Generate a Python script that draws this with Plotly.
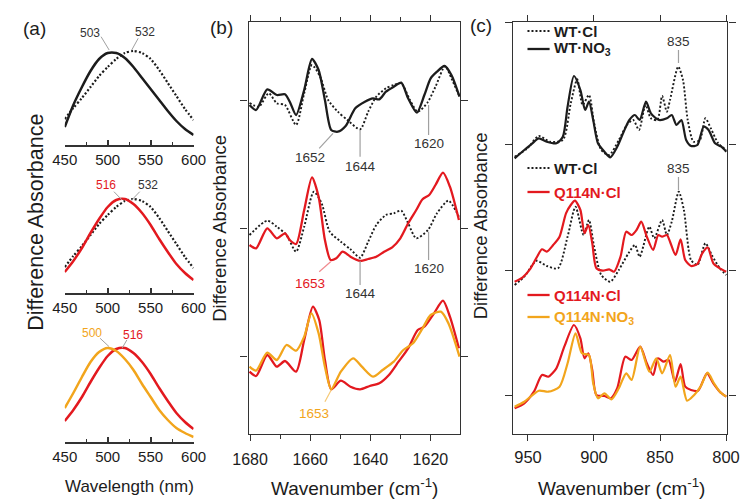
import plotly.graph_objects as go

W, H = 752, 500
FONT = "Liberation Sans, Arial, sans-serif"
BLACK = "#1c1c1c"
RED = "#e3191f"
ORANGE = "#f2a51c"
LEAD = "#a0a0a0"
DOTS = "2px,2px"

# ---------------- (a) visible difference spectra (normalised) ----------------
wavelength = [450, 460, 470, 480, 490, 500, 510, 520, 530, 540, 550, 560, 570, 580, 590, 600]
wt_no3_vis = [0.18, 0.40, 0.58, 0.74, 0.86, 0.92, 0.92, 0.87, 0.78, 0.67, 0.56, 0.45, 0.34, 0.24, 0.16, 0.10]
wt_cl_vis = [0.26, 0.37, 0.47, 0.58, 0.69, 0.78, 0.86, 0.92, 0.94, 0.92, 0.86, 0.75, 0.62, 0.49, 0.36, 0.25]
q114n_cl_vis = [0.21, 0.32, 0.45, 0.60, 0.74, 0.86, 0.93, 0.94, 0.89, 0.80, 0.68, 0.54, 0.41, 0.29, 0.20, 0.13]
q114n_no3_vis = [0.34, 0.49, 0.65, 0.80, 0.90, 0.94, 0.91, 0.83, 0.72, 0.58, 0.45, 0.32, 0.22, 0.14, 0.09, 0.05]

# ---------------- (b) amide I region ----------------
b_offsets = [0, -12.8, -25.6]

b1_wn = [1680.2, 1678.0, 1674.3, 1671.1, 1668.4, 1666.8, 1664.7, 1662.0, 1659.4, 1657.2, 1655.1, 1653.0,
         1650.8, 1648.2, 1645.0, 1641.8, 1639.1, 1637.0, 1634.8, 1632.2, 1629.7, 1627.4, 1624.5, 1622.0,
         1619.9, 1617.8, 1615.3, 1613.0, 1610.3]
b1_wt_no3 = [-0.5, -1.0, 1.07, 0.5, 0.57, -0.17, -1.5, 1.0, 4.1, 3.0, 0.0, -3.0,
             -3.17, -2.6, -0.83, -0.17, 0.17, 0.07, 0.83, 1.33, 1.73, 0.17, -1.27, 0.5,
             2.17, 2.83, 3.4, 2.5, 0.33]
b1d_wn = [1680.2, 1677.1, 1673.8, 1671.1, 1668.4, 1664.7, 1662.0, 1659.4, 1656.7, 1654.0, 1650.8, 1647.6,
          1643.4, 1640.7, 1638.0, 1634.8, 1632.2, 1629.7, 1626.8, 1624.2, 1621.0, 1618.3, 1615.1, 1613.0, 1610.3]
b1_wt_cl = [-0.3, -0.67, 0.67, -0.33, -0.5, -2.5, 0.67, 3.5, 2.33, 0.0, -1.17, -2.0,
            -2.93, -1.17, 0.33, 1.17, 1.5, 1.67, 0.0, -1.17, -0.27, 1.33, 3.4, 2.17, 0.33]

b2_wn = [1680.2, 1678.0, 1674.3, 1671.1, 1668.4, 1666.8, 1664.7, 1662.0, 1659.4, 1657.2, 1655.1, 1653.2,
         1651.3, 1649.2, 1646.6, 1643.4, 1640.7, 1638.0, 1635.4, 1632.7, 1630.0, 1627.4, 1624.7, 1622.6,
         1620.4, 1618.3, 1615.8, 1613.5, 1610.5]
b2_q114n_cl = [-1.7, -2.03, -0.03, -1.03, -0.53, -1.2, -1.6, 1.8, 5.07, 3.13, -1.2, -3.2,
               -3.03, -2.37, -2.87, -3.3, -3.1, -2.87, -2.37, -1.93, -1.03, 0.47, 1.8, 2.87,
               3.3, 4.3, 5.53, 4.13, 0.8]
b2d_wn = [1680.2, 1674.3, 1671.1, 1667.9, 1664.7, 1662.0, 1658.8, 1656.2, 1653.5, 1649.8, 1646.6, 1643.4,
          1640.7, 1638.0, 1634.8, 1632.2, 1629.7, 1627.4, 1624.7, 1620.8, 1617.8, 1614.0, 1610.5]
b2_wt_cl = [-0.7, 0.73, 0.13, -0.7, -2.37, 0.13, 3.63, 2.47, -0.37, -1.37, -2.13, -2.97,
            -1.37, 0.3, 1.3, 1.47, 1.73, 0.47, -1.03, -0.2, 1.47, 2.73, 1.13]

b3_wn = [1680.2, 1678.0, 1674.3, 1671.1, 1668.4, 1664.7, 1662.0, 1659.1, 1657.0, 1655.1, 1653.0, 1649.8,
         1646.6, 1643.4, 1640.2, 1637.0, 1633.8, 1630.6, 1627.4, 1624.2, 1622.0, 1618.8, 1615.8, 1613.5, 1610.5]
b3_q114n_cl = [-1.57, -2.0, 0.1, -1.07, -0.5, -1.57, 1.6, 4.93, 3.6, -0.4, -3.33, -2.47,
               -3.07, -3.33, -3.0, -2.73, -1.9, -0.57, 0.77, 2.6, 2.93, 4.27, 5.53, 3.93, 0.77]
b3o_wn = [1680.2, 1678.0, 1674.3, 1671.1, 1667.9, 1664.7, 1662.0, 1659.6, 1657.2, 1655.1, 1653.0, 1649.8,
          1645.7, 1642.8, 1639.1, 1635.9, 1632.2, 1629.0, 1625.8, 1622.6, 1619.9, 1616.5, 1614.0, 1610.3]
b3_q114n_no3 = [-1.07, -1.47, 0.33, -0.4, 1.1, 0.53, 1.93, 4.27, 2.27, -1.07, -3.33, -1.57,
                -0.23, -1.07, -2.07, -1.4, -0.57, 0.6, 1.27, 2.77, 4.1, 4.43, 3.27, -0.07]

# ---------------- (c) 960-800 cm-1 region ----------------
c_offsets = [0, -12.6, -25.1]

c1_wn = [960.1, 952.8, 946.7, 941.8, 935.8, 928.5, 923.6, 920.0, 915.2, 910.3, 906.7, 903.8,
         900.6, 897.0, 892.1, 887.7, 882.4, 877.5, 873.2, 869.0, 865.4, 860.6, 856.9, 850.8,
         844.8, 841.1, 837.5, 833.8, 830.2, 826.5, 821.7, 816.9, 813.2, 808.3, 803.5, 799.8]
c1_wt_no3 = [-1.43, -0.6, 0.07, 0.57, 0.23, 0.07, 0.73, 3.73, 6.8, 5.4, 3.4, 4.23,
             2.4, 0.07, -0.77, -1.33, -0.27, 1.23, 2.4, 2.9, 2.4, 4.23, 3.07, 2.4,
             2.57, 2.9, 1.9, 2.4, 0.4, -0.2, -0.1, 1.73, 1.4, 0.07, -0.27, -0.77]
c1d_wn = [960.1, 950.4, 941.8, 933.4, 923.6, 917.6, 912.7, 908.6, 903.8, 899.9, 894.5, 888.5,
          881.2, 875.1, 870.3, 865.9, 861.0, 856.9, 852.0, 848.4, 844.8, 842.4, 836.2, 832.6,
          829.0, 824.6, 819.8, 815.6, 811.5, 805.9, 799.8]
c1_wt_cl = [-1.27, -0.43, 0.8, 0.23, 0.4, 4.07, 6.47, 3.9, 4.9, 2.07, -0.6, -1.1,
            0.4, 1.9, 2.4, 1.4, 3.9, 2.57, 2.4, 4.8, 3.23, 4.4, 7.73, 6.4,
            2.4, 0.23, 0.4, 2.57, 1.57, 0.07, -0.6]

c2_wn = [960.1, 954.0, 948.0, 943.1, 939.4, 935.8, 930.9, 926.1, 921.2, 917.6, 914.4, 910.3,
         907.2, 904.3, 901.3, 898.2, 893.3, 888.5, 884.8, 879.9, 875.6, 871.5, 867.8, 864.2,
         860.0, 855.2, 851.3, 848.4, 844.8, 842.4, 838.2, 834.4, 830.9, 826.5, 821.7, 818.0,
         813.9, 809.6, 804.7, 799.8]
c2_q114n_cl = [-1.17, -0.73, 0.17, 1.33, 2.07, 1.83, 2.5, 3.33, 5.67, 6.5, 6.93, 6.0,
               3.67, 4.5, 2.67, 0.17, -0.07, 0.07, -0.17, 1.33, 3.83, 3.5, 4.0, 4.83,
               3.33, 2.0, 3.5, 3.33, 3.5, 2.83, 1.5, 3.07, 1.0, 0.4, 0.6, 1.67,
               2.27, 0.67, 0.17, -0.17]
c2d_wn = [960.1, 952.8, 946.7, 943.3, 935.8, 927.3, 920.0, 914.0, 907.9, 903.8, 899.9, 894.5,
          887.7, 881.2, 873.9, 869.0, 865.4, 858.1, 854.4, 848.4, 844.8, 841.1, 835.8, 831.9,
          826.5, 821.7, 815.6, 810.8, 804.7, 799.8]
c2_wt_cl = [-1.5, -0.67, 0.5, 0.93, 0.4, 0.17, 3.33, 6.33, 3.5, 5.0, 2.33, -0.5,
            -1.17, 0.0, 1.67, 2.5, 1.33, 4.33, 3.17, 5.0, 3.5, 4.83, 7.83, 6.0,
            1.0, 0.5, 2.67, 1.5, 0.17, -0.5]

c3_wn = [960.1, 952.8, 945.5, 939.4, 934.6, 928.5, 922.5, 915.2, 910.3, 907.2, 904.3, 901.3,
         898.2, 892.1, 887.2, 882.4, 876.3, 871.5, 865.0, 860.0, 855.2, 851.5, 847.2, 843.5,
         838.7, 834.4, 830.9, 826.5, 821.2, 814.4, 809.6, 804.7, 799.8]
c3_q114n_cl = [-1.33, -0.83, 0.33, 2.0, 1.83, 2.67, 4.83, 7.0, 5.67, 3.67, 4.17, 2.5,
               0.0, -0.1, -0.33, 0.67, 3.83, 3.5, 4.83, 3.17, 2.0, 3.67, 3.33, 3.5,
               1.33, 3.1, 0.83, 0.5, 0.43, 2.17, 1.17, 0.33, -0.17]
c3o_wn = [960.1, 952.8, 941.8, 934.6, 926.1, 920.0, 914.0, 909.1, 903.8, 900.6, 897.0, 892.1,
          886.8, 881.2, 875.6, 871.5, 865.0, 858.1, 852.8, 848.4, 842.4, 838.2, 834.4, 829.5,
          824.1, 819.3, 813.9, 809.1, 804.7, 799.8]
c3_q114n_no3 = [-1.17, -0.67, 0.43, 0.33, 0.83, 3.17, 6.17, 4.17, 4.0, 1.17, -0.33, 0.17,
                -0.43, 0.67, 2.17, 1.5, 4.83, 2.33, 3.67, 2.17, 4.0, 0.83, 1.83, -0.57,
                0.0, 0.83, 2.23, 1.17, 0.33, -0.17]

# ---------------- peak labels: (text, colour, label x, label y, leader from, leader to) ----------------
a_labels = [
    ("x", "y", "503", "#333333", 479.6, 1.12, (492.3, 1.083), (501.7, 0.95)),
    ("x", "y", "532", "#333333", 543.7, 1.13, (535.5, 1.067), (528.0, 0.95)),
    ("x2", "y2", "516", RED, 497.9, 1.08, (507.3, 1.013), (516.7, 0.93)),
    ("x2", "y2", "532", "#333333", 546.6, 1.08, (537.3, 1.013), (528.0, 0.93)),
    ("x3", "y3", "500", ORANGE, 481.8, 1.093, (491.2, 1.037), (501.7, 0.953)),
    ("x3", "y3", "516", RED, 529.8, 1.07, (522.3, 1.02), (516.7, 0.937)),
]
b_labels = [
    ("1652", "#333333", 1660.0, -5.7, (1652.4, -3.33), (1657.0, -4.83), LEAD),
    ("1644", "#333333", 1643.4, -6.6, (1643.4, -3.0), (1643.4, -5.67), LEAD),
    ("1620", "#333333", 1620.6, -4.33, (1620.6, -0.5), (1620.6, -3.5), LEAD),
    ("1653", RED, 1659.9, -12.8 - 5.53, (1653.2, -12.8 - 3.37), (1657.0, -12.8 - 4.37), "#f08a8e"),
    ("1644", "#333333", 1643.4, -12.8 - 6.53, (1643.4, -12.8 - 3.3), (1643.4, -12.8 - 5.7), LEAD),
    ("1620", "#333333", 1620.6, -12.8 - 4.03, (1620.6, -12.8 - 0.37), (1620.6, -12.8 - 3.2), LEAD),
    ("1653", ORANGE, 1658.8, -25.6 - 5.73, (1653.0, -25.6 - 3.4), (1655.1, -25.6 - 4.57), "#f6c874"),
]
c_labels = [
    ("835", 836.0, 10.23, (836.0, 9.4), (836.0, 8.1)),
    ("835", 836.0, -12.6 + 10.2, (836.0, -12.6 + 9.3), (836.0, -12.6 + 8.0)),
]

fig = go.Figure()


def add_line(xs, ys, color, xa, ya, dash="solid", width=2.0, offset=0.0):
    fig.add_trace(go.Scatter(
        x=xs, y=[v + offset for v in ys], mode="lines",
        line=dict(color=color, width=width, dash=dash, shape="spline", smoothing=0.7),
        xaxis=xa, yaxis=ya, showlegend=False, hoverinfo="skip"))


# (a)
add_line(wavelength, wt_cl_vis, BLACK, "x", "y", dash=DOTS, width=2.2)
add_line(wavelength, wt_no3_vis, BLACK, "x", "y", width=2.5)
add_line(wavelength, wt_cl_vis, BLACK, "x2", "y2", dash=DOTS, width=2.2)
add_line(wavelength, q114n_cl_vis, RED, "x2", "y2", width=2.5)
add_line(wavelength, q114n_cl_vis, RED, "x3", "y3", width=2.5)
add_line(wavelength, q114n_no3_vis, ORANGE, "x3", "y3", width=2.5)

# (b)
add_line(b1d_wn, b1_wt_cl, BLACK, "x4", "y4", dash=DOTS, width=1.9, offset=b_offsets[0])
add_line(b1_wn, b1_wt_no3, BLACK, "x4", "y4", width=2.3, offset=b_offsets[0])
add_line(b2d_wn, b2_wt_cl, BLACK, "x4", "y4", dash=DOTS, width=1.9, offset=b_offsets[1])
add_line(b2_wn, b2_q114n_cl, RED, "x4", "y4", width=2.3, offset=b_offsets[1])
add_line(b3_wn, b3_q114n_cl, RED, "x4", "y4", width=2.3, offset=b_offsets[2])
add_line(b3o_wn, b3_q114n_no3, ORANGE, "x4", "y4", width=2.3, offset=b_offsets[2])

# (c)
add_line(c1d_wn, c1_wt_cl, BLACK, "x5", "y5", dash=DOTS, width=1.9, offset=c_offsets[0])
add_line(c1_wn, c1_wt_no3, BLACK, "x5", "y5", width=2.2, offset=c_offsets[0])
add_line(c2d_wn, c2_wt_cl, BLACK, "x5", "y5", dash=DOTS, width=1.9, offset=c_offsets[1])
add_line(c2_wn, c2_q114n_cl, RED, "x5", "y5", width=2.2, offset=c_offsets[1])
add_line(c3_wn, c3_q114n_cl, RED, "x5", "y5", width=2.2, offset=c_offsets[2])
add_line(c3o_wn, c3_q114n_no3, ORANGE, "x5", "y5", width=2.2, offset=c_offsets[2])

annotations = []
shapes = []

for xa, ya, txt, col, lx, ly, p0, p1 in a_labels:
    annotations.append(dict(x=lx, y=ly, xref=xa, yref=ya, text=txt, showarrow=False,
                            xanchor="center", yanchor="middle",
                            font=dict(size=12, color=col, family=FONT)))
    shapes.append(dict(type="line", xref=xa, yref=ya, x0=p0[0], y0=p0[1], x1=p1[0], y1=p1[1],
                       line=dict(color=LEAD, width=1)))

for txt, col, lx, ly, p0, p1, lc in b_labels:
    annotations.append(dict(x=lx, y=ly, xref="x4", yref="y4", text=txt, showarrow=False,
                            xanchor="center", yanchor="middle",
                            font=dict(size=13.5, color=col, family=FONT)))
    shapes.append(dict(type="line", xref="x4", yref="y4", x0=p0[0], y0=p0[1], x1=p1[0], y1=p1[1],
                       line=dict(color=lc, width=1.2)))

for txt, lx, ly, p0, p1 in c_labels:
    annotations.append(dict(x=lx, y=ly, xref="x5", yref="y5", text=txt, showarrow=False,
                            xanchor="center", yanchor="middle",
                            font=dict(size=13.5, color="#333333", family=FONT)))
    shapes.append(dict(type="line", xref="x5", yref="y5", x0=p0[0], y0=p0[1], x1=p1[0], y1=p1[1],
                       line=dict(color=LEAD, width=1.2)))

# legend entries of panel (c)
legend_rows = [
    ("WT·Cl", BLACK, DOTS, 31),
    ("WT·NO<sub>3</sub>", BLACK, "solid", 49),
    ("WT·Cl", BLACK, DOTS, 168),
    ("Q114N·Cl", RED, "solid", 192),
    ("Q114N·Cl", RED, "solid", 295),
    ("Q114N·NO<sub>3</sub>", ORANGE, "solid", 317),
]
for txt, col, dash, ypx in legend_rows:
    shapes.append(dict(type="line", xref="paper", yref="paper",
                       x0=532 / W, x1=555 / W, y0=1 - ypx / H, y1=1 - ypx / H,
                       line=dict(color=col, width=2.3 if dash == "solid" else 1.9, dash=dash)))
    annotations.append(dict(x=557 / W, y=1 - ypx / H, xref="paper", yref="paper", xanchor="left",
                            yanchor="middle", text="<b>%s</b>" % txt, showarrow=False,
                            font=dict(size=15, color=col, family=FONT)))


def paper_text(txt, xp, yp, size, angle=0):
    annotations.append(dict(x=xp / W, y=1 - yp / H, xref="paper", yref="paper", text=txt,
                            xanchor="center", yanchor="middle", textangle=angle, showarrow=False,
                            font=dict(size=size, color=BLACK, family=FONT)))


# panel tags and axis titles
paper_text("(a)", 19, 28, 19)
paper_text("(b)", 214, 27, 19)
paper_text("(c)", 484, 25, 19)
paper_text("Wavelength (nm)", 118.5, 486, 17)
paper_text("Wavenumber (cm<sup>-1</sup>)", 352, 487, 19)
paper_text("Wavenumber (cm<sup>-1</sup>)", 630, 487, 19)
paper_text("Difference Absorbance", 20.5, 222, 21.5, -90)
paper_text("Difference Absorbance", 212, 228, 18.5, -90)
paper_text("Difference Absorbance", 484, 226, 18.5, -90)

AX = "#333333"


def a_xaxis(anchor, dom):
    return dict(domain=dom, anchor=anchor, range=[450, 600], showline=True, linecolor=AX, linewidth=1.5,
                ticks="inside", ticklen=5, tickwidth=1.5, tickcolor=AX,
                tickvals=[450, 500, 550, 600],
                minor=dict(tickvals=[475, 525, 575], ticks="inside", ticklen=3, tickwidth=1.2, tickcolor=AX),
                showgrid=False, zeroline=False,
                tickfont=dict(size=15, color=BLACK, family=FONT))


def a_yaxis(anchor, bottom_px, top_px):
    return dict(domain=[1 - bottom_px / H, 1 - top_px / H], anchor=anchor,
                range=[0, (bottom_px - top_px) / 100.0], visible=False)


a_dom = [50.7 / W, 184.7 / W]

fig.update_layout(
    width=W, height=H, margin=dict(l=0, r=0, t=0, b=0),
    paper_bgcolor="white", plot_bgcolor="white",
    font=dict(family=FONT, color=BLACK),
    xaxis=a_xaxis("y", a_dom), yaxis=a_yaxis("x", 145, 25),
    xaxis2=a_xaxis("y2", a_dom), yaxis2=a_yaxis("x2", 293, 173),
    xaxis3=a_xaxis("y3", a_dom), yaxis3=a_yaxis("x3", 442, 322),
    xaxis4=dict(domain=[242 / W, 462 / W], anchor="y4", range=[1680.48, 1610.08],
                showline=True, mirror="ticks", linecolor=AX, linewidth=1.4,
                ticks="outside", ticklen=6, tickwidth=1.3, tickcolor=AX,
                tickvals=[1680, 1660, 1640, 1620], ticklabelstandoff=5,
                minor=dict(tickvals=[1670, 1650, 1630, 1610], ticks="outside", ticklen=4,
                           tickwidth=1.2, tickcolor=AX),
                showgrid=False, zeroline=False, tickfont=dict(size=16, color=BLACK, family=FONT)),
    yaxis4=dict(domain=[1 - 434 / H, 1 - 22 / H], anchor="x4", range=[-33.4, 7.8],
                showline=True, mirror="ticks", linecolor=AX, linewidth=1.4,
                ticks="outside", ticklen=7, tickwidth=1.3, tickcolor=AX,
                tickvals=b_offsets, showticklabels=False, showgrid=False, zeroline=False),
    xaxis5=dict(domain=[517 / W, 740 / W], anchor="y5", range=[961.3, 798.9],
                showline=True, mirror="ticks", linecolor=AX, linewidth=1.4,
                ticks="outside", ticklen=6, tickwidth=1.3, tickcolor=AX,
                tickvals=[950, 900, 850, 800], ticklabelstandoff=2,
                showgrid=False, zeroline=False, tickfont=dict(size=16.5, color=BLACK, family=FONT)),
    yaxis5=dict(domain=[1 - 434 / H, 1 - 22 / H], anchor="x5", range=[-29.0, 12.2],
                showline=True, mirror="ticks", linecolor=AX, linewidth=1.4,
                ticks="outside", ticklen=7, tickwidth=1.3, tickcolor=AX,
                tickvals=c_offsets + [12.2], showticklabels=False, showgrid=False, zeroline=False),
    annotations=annotations,
    shapes=shapes,
)

fig.write_html("out.html")
